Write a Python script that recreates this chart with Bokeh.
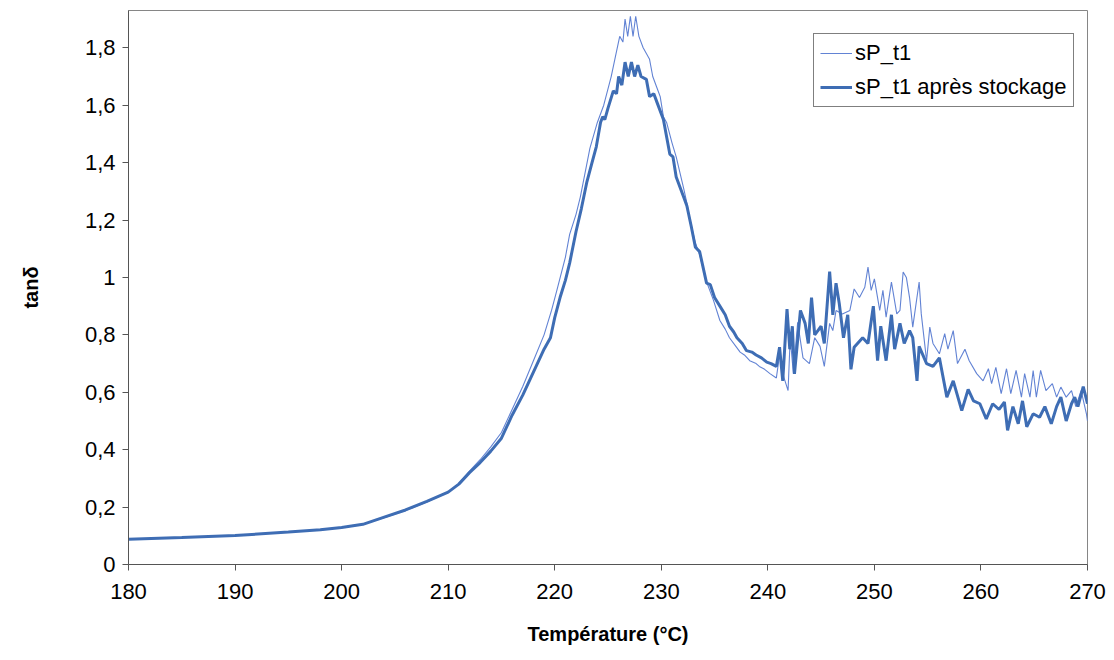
from bokeh.plotting import figure
from bokeh.models import Legend, LegendItem, FixedTicker, CustomJSTickFormatter, Range1d
from bokeh.embed import file_html
from bokeh.resources import INLINE

# ---- data ----
temp_orig = [180, 185, 190, 195, 198, 200, 202, 204, 206, 208, 210, 211, 212, 213, 214, 215,
             216, 217, 218, 219, 219.7, 220.2, 221, 221.4, 222, 222.4, 223.3, 224, 224.6, 225.3,
             225.7, 226.1, 226.4, 226.6, 226.85, 227.1, 227.35, 227.6, 227.9, 228.3, 228.6, 228.9,
             229.2, 229.6, 229.9, 230.2, 230.5, 231.0, 231.4, 232.1, 232.4, 232.7, 233.2, 233.6,
             234.2, 234.9, 235.5, 236.0, 236.4, 237.0, 237.4, 237.8, 238.3, 238.9, 239.2, 239.7,
             240.2, 240.8,
             241.1, 241.5, 241.9, 242.1, 242.4, 242.8, 243.3, 243.9, 244.4, 244.9, 245.3, 245.8,
             246.1, 246.4, 247.0, 247.7, 248.1, 248.6, 249.1, 249.4, 249.7, 250.0, 250.5, 250.8,
             251.1, 251.6, 252.1, 252.4, 252.7, 253.0, 253.3, 253.6, 254.2, 254.4, 254.9, 255.2,
             255.5, 256.1, 256.6, 256.9, 257.4, 257.8, 258.5, 258.9, 259.6, 260.2, 260.7, 261.0,
             261.4, 261.9, 262.4, 262.8, 263.3, 263.8, 264.1, 264.6, 264.9, 265.2, 265.6, 266.1,
             266.7, 267.1, 267.5, 268.0, 268.5, 268.9, 269.4, 269.9, 270.0]
tan_orig = [0.088, 0.094, 0.101, 0.113, 0.121, 0.129, 0.14, 0.163, 0.188, 0.218, 0.252, 0.282, 0.325, 0.365, 0.41, 0.46,
            0.54, 0.62, 0.71, 0.80, 0.885, 0.955, 1.07, 1.15, 1.22, 1.28, 1.45, 1.54, 1.60, 1.70,
            1.77, 1.84, 1.82, 1.90, 1.84, 1.91, 1.84, 1.91, 1.84, 1.80, 1.78, 1.76,
            1.70, 1.66, 1.63, 1.56, 1.54, 1.47, 1.42, 1.31, 1.26, 1.20, 1.12, 1.08,
            0.99, 0.92, 0.85, 0.82, 0.79, 0.76, 0.74, 0.73, 0.71, 0.70, 0.69, 0.68,
            0.665, 0.65,
            0.73, 0.653, 0.606, 0.79, 0.665, 0.844, 0.72, 0.70, 0.79, 0.76, 0.69, 0.84,
            0.815, 0.885, 0.873, 0.885, 0.96, 0.93, 0.966, 1.036, 0.955, 0.995, 0.885, 0.955,
            0.862, 0.984, 0.873, 0.885, 1.019, 1.0, 0.93, 0.827, 0.984, 0.873, 0.71, 0.827,
            0.77, 0.734, 0.804, 0.75, 0.815, 0.70, 0.75, 0.71, 0.665, 0.64, 0.682, 0.63,
            0.687, 0.595, 0.682, 0.595, 0.676, 0.583, 0.665, 0.583, 0.676, 0.583, 0.676, 0.606,
            0.63, 0.583, 0.618, 0.583, 0.606, 0.55, 0.606, 0.525, 0.50]

temp_stock = [180, 185, 190, 195, 198, 200, 202, 204, 206, 208, 210, 211, 212, 213, 214, 215,
              216, 217, 218, 219, 219.6, 220, 220.5, 221, 221.4, 222, 222.5, 223, 223.5, 223.9,
              224.3, 224.5, 224.7, 225, 225.5, 225.8, 226.0, 226.3, 226.6, 226.9, 227.2, 227.5,
              227.8, 228.1, 228.6, 228.9, 229.3, 229.6, 230.2, 230.8, 231.1, 231.4, 232.1, 232.4,
              232.8, 233.2, 233.6, 234.25, 234.6, 235.0, 235.5, 236.0, 236.4, 236.8, 237.1, 237.6,
              238.0, 238.5, 238.9, 239.4, 239.9, 240.3, 240.8,
              241.1, 241.4, 241.8, 242.06, 242.3, 242.5, 243.06, 243.5, 243.8, 244.1, 244.4, 244.7,
              245.0, 245.3, 245.8, 246.1, 246.4, 246.7, 247.1, 247.5, 247.8, 248.1, 248.9, 249.4,
              249.9, 250.3, 250.6, 251.1, 251.6, 251.9, 252.4, 252.8, 253.3, 253.6, 254.0, 254.2,
              254.9, 255.5, 256.1, 256.8, 257.4, 258.2, 258.8, 259.3, 259.9, 260.5, 261.1, 261.7,
              262.2, 262.5, 263.0, 263.5, 263.9, 264.3, 264.9, 265.5, 266.0, 266.6, 267.1, 267.5,
              268.0, 268.5, 268.8, 269.1, 269.6, 270.0]
tan_stock = [0.088, 0.094, 0.101, 0.113, 0.121, 0.129, 0.14, 0.165, 0.19, 0.22, 0.252, 0.28, 0.32, 0.355, 0.395, 0.44,
             0.52, 0.59, 0.67, 0.75, 0.79, 0.86, 0.93, 0.99, 1.05, 1.16, 1.24, 1.33, 1.40, 1.455,
             1.54, 1.56, 1.55, 1.59, 1.65, 1.64, 1.70, 1.67, 1.75, 1.70, 1.75, 1.70,
             1.74, 1.70, 1.69, 1.63, 1.64, 1.61, 1.55, 1.43, 1.42, 1.35, 1.28, 1.25,
             1.18, 1.105, 1.09, 0.98, 0.975, 0.93, 0.90, 0.87, 0.83, 0.81, 0.79, 0.77,
             0.745, 0.74, 0.73, 0.72, 0.705, 0.70, 0.69,
             0.757, 0.64, 0.89, 0.75, 0.83, 0.664, 0.885, 0.84, 0.77, 0.93, 0.80, 0.815,
             0.83, 0.77, 1.02, 0.87, 0.98, 0.91, 0.79, 0.87, 0.68, 0.757, 0.79, 0.77,
             0.90, 0.71, 0.83, 0.71, 0.87, 0.75, 0.84, 0.77, 0.815, 0.79, 0.64, 0.76,
             0.70, 0.69, 0.72, 0.583, 0.64, 0.536, 0.61, 0.57, 0.56, 0.507, 0.56, 0.54,
             0.566, 0.467, 0.55, 0.49, 0.57, 0.48, 0.525, 0.513, 0.55, 0.49, 0.55, 0.583,
             0.50, 0.56, 0.583, 0.55, 0.62, 0.56]

series_labels = ["sP_t1", "sP_t1 après stockage"]
x_ticks = [180, 190, 200, 210, 220, 230, 240, 250, 260, 270]
y_ticks = [0, 0.2, 0.4, 0.6, 0.8, 1.0, 1.2, 1.4, 1.6, 1.8]

FONT = "Liberation Sans"

p = figure(width=1110, height=656, output_backend="svg", toolbar_location=None,
           x_range=Range1d(180, 270), y_range=Range1d(0, 1.93),
           min_border_left=128, min_border_right=23, min_border_top=10, min_border_bottom=92,
           background_fill_color="white", border_fill_color="white")
p.grid.visible = False
p.outline_line_color = "#868686"
p.outline_line_width = 1

thin = p.line(temp_orig, tan_orig, line_color="#6283d4", line_width=1.1)
thick = p.line(temp_stock, tan_stock, line_color="#3e6db4", line_width=3)

for ax in (p.xaxis[0], p.yaxis[0]):
    ax.axis_line_color = "#555555"
    ax.major_tick_line_color = "#555555"
    ax.major_tick_out = 6
    ax.major_tick_in = 0
    ax.minor_tick_line_color = None
    ax.major_label_text_font = FONT
    ax.major_label_text_font_size = "22px"
    ax.major_label_text_color = "#000000"
    ax.axis_label_text_font = FONT
    ax.axis_label_text_font_style = "bold"
    ax.axis_label_text_font_size = "20px"
    ax.axis_label_text_color = "#000000"

p.xaxis.ticker = FixedTicker(ticks=x_ticks)
p.yaxis.ticker = FixedTicker(ticks=y_ticks)
p.yaxis.formatter = CustomJSTickFormatter(
    code="return (Math.round(tick*10)/10).toString().replace('.', ',');")
p.xaxis.axis_label = "Température (°C)"
p.yaxis.axis_label = "tanδ"
p.xaxis.major_label_standoff = 13
p.yaxis.major_label_standoff = 7
p.xaxis.axis_label_standoff = 21
p.yaxis.axis_label_standoff = 40

legend = Legend(items=[LegendItem(label=series_labels[0], renderers=[thin]),
                       LegendItem(label=series_labels[1], renderers=[thick])],
                location=(685, 457))
legend.border_line_color = "#000000"
legend.border_line_width = 1
legend.background_fill_color = "white"
legend.background_fill_alpha = 1
legend.label_text_font = FONT
legend.label_text_font_size = "22px"
legend.label_text_color = "#000000"
legend.glyph_width = 32
legend.glyph_height = 24
legend.label_height = 24
legend.label_standoff = 3
legend.spacing = 8
legend.padding = 6
legend.margin = 0
p.add_layout(legend)

open("out.html", "w").write(file_html(p, INLINE))
